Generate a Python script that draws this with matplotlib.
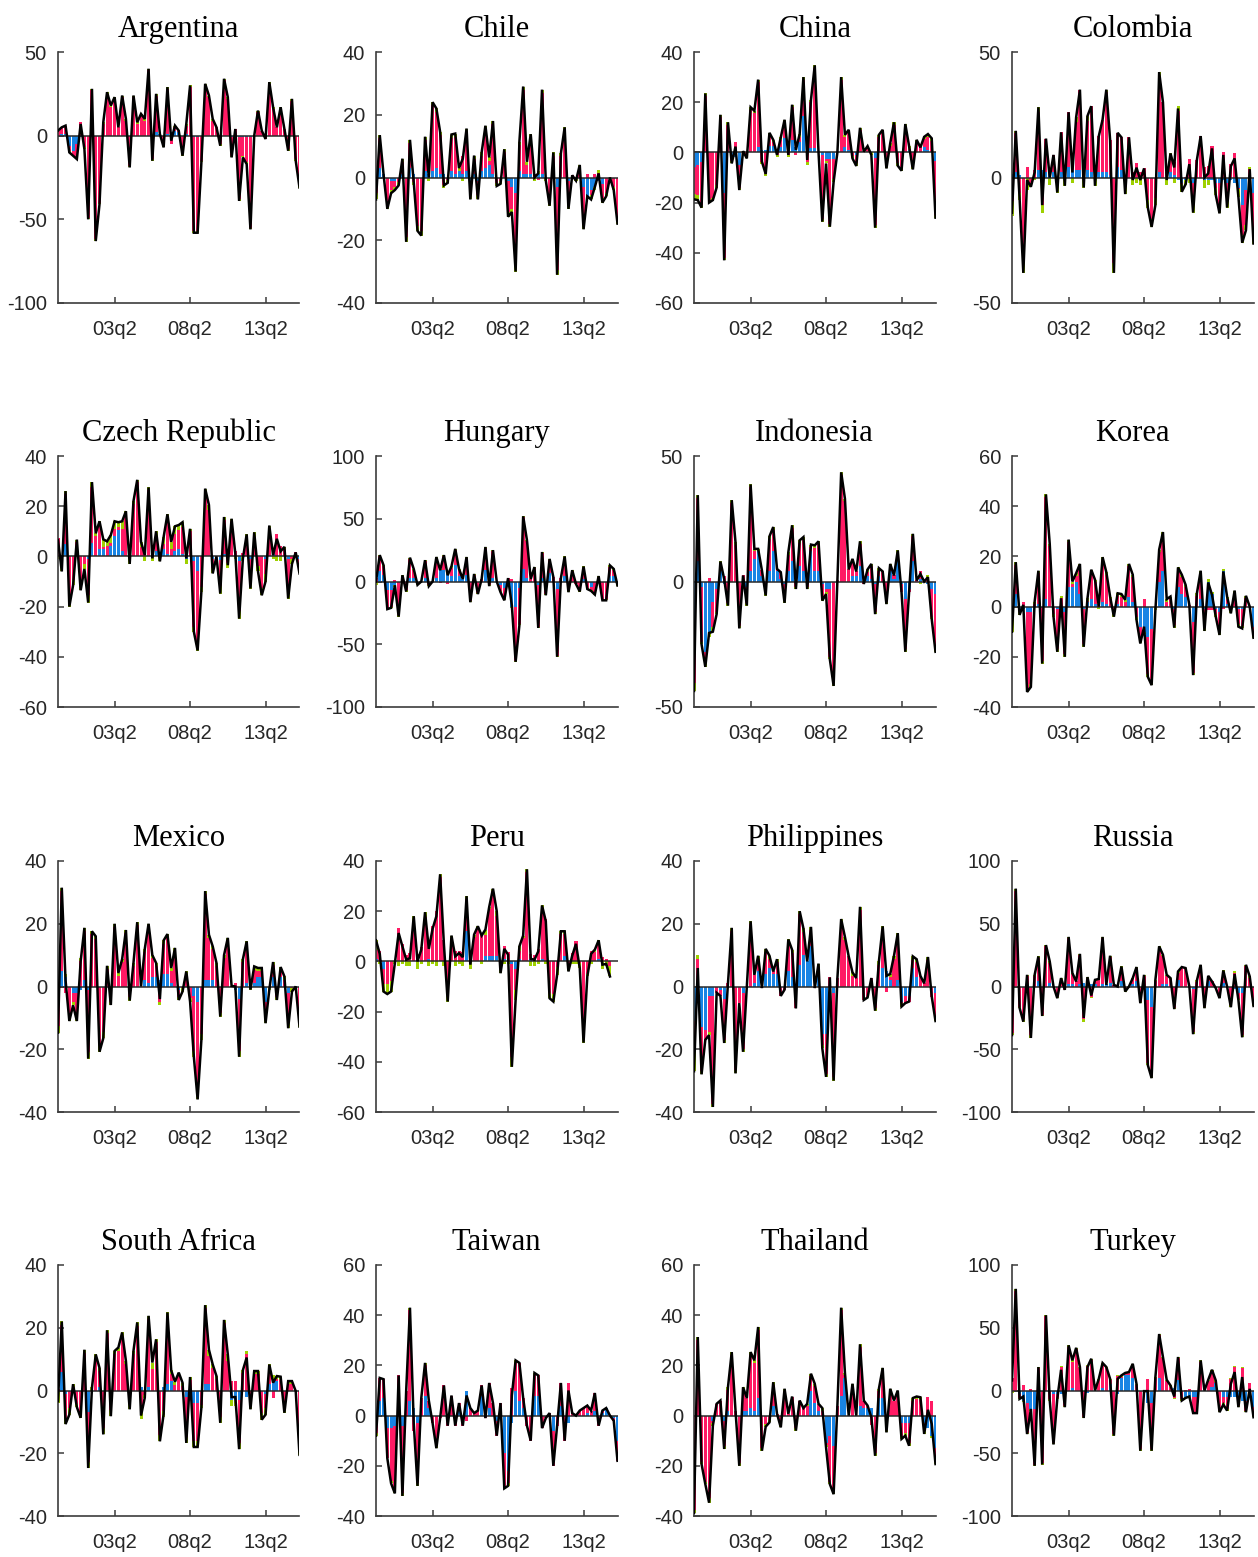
import numpy as np
import matplotlib
matplotlib.use("Agg")
import matplotlib.pyplot as plt

plt.rcParams["axes.unicode_minus"] = False

# Quarterly periods 1999q3 .. 2015q3
PERIODS = [f"{y % 100:02d}q{q}" for y in range(1999, 2016) for q in range(1, 5)][2:67]
TICK_LABELS = ["03q2", "08q2", "13q2"]

BLUE = "#1984e4"
PINK = "#ff1a64"
GREEN = "#9ed000"

# ---- series: total (line), blue contribution, green contribution ----
ARG_L = [3,5,6,-10,-12,-14,7,-8,-50,28,-63,-41,8,26,18,23,5,24,10,-19,24,8,13,10,40,-15,25,1,-7,29,-3,6,3,-12,7,30,-58,-58,-16,31,24,10,5,-6,34,23,-13,4,-39,-13,-17,-56,0,15,3,-2,32,17,5,17,4,-9,22,-15,-31]
ARG_B = [0,1,1,-6,-9,-5,-1,0,0,0,0,0,0,0,0,0,0,0,0,0,0,0,0,0,0,0,2,1,0,1,2,3,2,0,1,0,-1,-1,0,0,0,0,0,0,0,0,-1,0,-1,-1,-1,-1,0,0,0,-1,0,0,0,0,0,0,0,0,0]
ARG_G = [0,0,0,-1,0,-1,0,-1,-1,1,-1,-1,1,1,1,1,0,1,1,-1,1,1,1,1,1,-1,1,0,-1,1,0,1,0,-1,1,1,-1,-1,-1,1,1,1,0,-1,1,1,-1,0,-1,-1,-1,-1,0,1,0,0,1,1,0,1,0,-1,1,-1,-1]

CHL_L = [-7,13.5,1,-10,-5,-4,-2.5,6,-20.5,12,-1.5,-17,-18.5,13,0,24,22,14.5,-2.5,-1.7,13.7,14,3,6,15.6,-7,7,-7,8,16.5,6.4,18,-2.7,-2,9,-12.5,-11,-30,11.4,29,5,13.8,0,1.3,28,-1,-9,8,-31,7.7,16,-10,0.7,-1,4,-16.5,-6,-7,-3,1.3,-8,-6,0,-4,-14.7]
CHL_B = [0,3,1,0,-1,-1,0,1,0,3,1,0,0,2,1,2,3,1,1,0,2,1,2,1,2,-4,1,-1,2,3,4,1,0,0,0,-1,-3,-5,2,1,1,1,0,1,1,0,0,0,-3,0,0,-1,0,0,0,-3,-6,-4,-3,-1,-2,0,0,0,0]
CHL_G = [-2,1,0,-1.5,-1,-1,-1,1,-1.5,1,-1,-1.5,-1.5,1,-1,1,1,1,-1,-1,1,1,1,-1,1,-1.5,1,-1.5,1,1,1,1,-1,-1,1,-1.5,-1,-2,1,1,1,1,-1,1,1,-1,-1.5,1,-1.5,1,1,-1.5,0,-1,1,-1.5,-1,-1.5,-1,1,-1.5,-1,0,-1,-1.5]

CHN_L = [-18.7,-19,-22,23.5,-20,-19,-14,15,-43,12,-4.4,2.3,-15,0.5,-2.4,18,16.6,29,-3.7,-8.6,7.8,5,-1,6,13,-1,19,1,7.3,30,-3,21,34.7,0,-27.6,-4.4,-29.6,-11.7,0,30,7,9,-2.4,-5.4,9.8,0.3,2.5,-1,-30,7,9,-6.4,3.6,12,-5.3,-7.3,11.3,2.5,-6.8,5,2,6.2,7.3,5.6,-26]
CHN_B = [-6,-5,-4,0,0,0,0,0,-16,0,-1,-2,-5,0,0,0,0,2,1,1,2.5,2.5,1,2,5.6,1,5,2,4,14.5,2,1.6,1.6,0,-1,-2.8,-2.8,-2.8,0,0,2,1,0,-1,0,0,0,0,-2.4,0,0,0,0,0,0,0,0,1,0,0,0,2,1,0,-3.3]
CHN_G = [-2,-2,-1,1,-1,-1,-1,1,-1,1,-1,0,-1,0,-1,1,1,1,-1,-1,1,1,-1,1,1,-1,1,0,1,1,-1,1,1,0,-1,-1,-1,-1,0,1,1,1,-1,-1,1,0,0,-1,-1,1,1,-1,1,1,-1,-1,1,1,-1,1,0,1,1,1,-1]

COL_L = [-14,18.6,-8,-38,-1,-3.7,2,28,-11,15.5,0,9,-6,18,-3.3,26,2,24,35,-4,24.5,28.4,-3.3,16.5,23,35,15,-38,17.8,16,-6.6,16,-1,3.9,-1,3.6,-12,-19.7,-11,42,30,-1,9.6,4,27.5,-5.7,-2.7,5.3,-14,7,16.5,0,1.6,11.6,-7,-14.3,9,-12,4.5,7.6,-7.7,-26,-21,3.3,-26.3]
COL_B = [1.5,2,1,0,0,0,0,3,3,2,2,2,0,2,0,4,3,3,3,0,3,2,0,2,2,2,1,0,4,3,0,0,0,0,0,0,0,0,0,2,0,0,2,1,-1,-2,-1,0,-2,0,0,-1,-1,-1,-2,-2,-1,-2,-1,-2,-4,-11,-5,-1,-6]
COL_G = [-6,1,-3,-4,-5,-1,-1,2,-3,0,-3,0,-3,0,-3,0,-2,2,0,-3,2,0,-3,0,0,1,0,-4,0,0,-3,0,-3,-2,-3,0,-3,-3,-3,2,0,-3,2,-2,2,-3,-2,-2,-3,0,0,-3,-2,0,-3,-3,0,-3,0,0,-3,-3,-2,1,-3]

CZE_L = [6.5,-6,26,-20,-11.5,6.7,-13.5,-5,-18.4,29.6,9.2,14,6.8,6,8.5,14,13.6,14,18,-3,22,30.5,5.8,0.5,27.5,-0.8,10,-2,7.8,16.8,5.8,12,12.5,13.6,-0.8,11,-30,-37.5,-14,27,20.5,-6.8,0,-14.8,15.7,-3.5,15,1,-24.8,-0.8,8.8,-12.8,9.6,-6,-15.5,-10,12.3,0.5,7,2,3.8,-16.8,-3,1.6,-6.8]
CZE_B = [0,-1,5,0,0,0,0,0,-1,5.5,0,3,3,0,4,8,10.5,2,0,0,0,0,0,0,0,0,2,0,3,1,0,2,3,1,-1,0,-2,-6,0,0,0,-1,0,-1.5,1,1,0,0,-2,0,0,-1,0,0,0,-1,0,1,0,0,0,-1,0,0,-1]
CZE_G = [-1,-2,1,-3,-2,1,-3,-2,-3,2,1,2,3,2,3,3,2,3,1,-3,1,1,2,-2,1,-2,3,-2,3,3,3,3,2,2,-2,1,-2,-3,-2,1,2,-2,0,-3,1,-2,1,-1,-3,-2,1,-3,2,-2,-3,-3,1,-1,-2,-2,1,-3,-2,0,-2]

HUN_L = [0,21,13,-22,-21,-3,-28,5,-8,19,10,-2.7,0,17,-3.7,0,19.5,9,21,5,12,26,10,2,19.5,-16.5,6,-10,2,27.5,-3.7,25,0,-8.5,-15,2.7,-19,-64,-35,52,33,2,11.5,-37,23.5,-11,18,3.5,-60,2.7,20,-8.5,9,-2,-8,12,-6,-7.5,-10.4,4.3,-15,-15,12.8,10,-3.2]
HUN_B = [0,8,5,-7,-7,-3,0,3,0,3,3,0,0,3,0,0,3,9,9,6,4,13,4,2,5,0,2,0,0,9,0,3,0,-3,-5,0,-20,-20,-5,10,3,0,0,-3,3,0,7,0,-6,0,4,0,0,0,0,2,0,-4,0,0,0,0,4,4,0]
HUN_G = [-3,1,1,-1,-1,-1,-1,1,-1,1,1,-1,0,1,-1,0,1,1,1,1,1,1,1,0,1,-1,1,-1,0,1,-1,1,0,-1,-1,0,-1,-1,-1,1,1,0,1,-1,1,-1,1,0,-1,0,1,-1,1,0,-1,1,-1,-1,-1,1,-1,-1,1,1,-1]

IDN_L = [-43.6,34.4,-25,-34,-20.5,-20,-13,8,1,-9.6,32.4,15.7,-18.7,2.4,-9.6,38.7,13,13,4.4,-5.6,18,21.7,5,3.7,-8.5,11.7,22.4,-3,16.4,17.7,-3,14.7,14.4,16,-7.6,-5,-31,-41.6,0.4,43.5,33,4.8,9,4,16,-1,4.8,7,-13,5.3,4,-9,7,2.4,12.4,-4.3,-28,-4.3,19,0.4,3,0,1.7,-15,-28]
IDN_B = [-18,8,-2,-28,-20,-8,-3,4,-1,0,0,0,0,0,-2,4,9,12,2,0,4,12,4,1,-1,4,8,0,6,4,0,12,4,4,-1,-3,-3,0,0,0,0,0,2,2,6,0,2,1,-1,2,0,0,4,1,8,-1,-7,-3,8,0,1,0,-1,-3,-5]
IDN_G = [-3,1,-1,-2,-2,-2,-1,1,0,-1,1,1,-1,0,-1,1,1,1,0,-1,1,1,0,0,-1,1,1,-1,1,1,-1,1,1,1,-1,-1,-1,-2,0,1,1,0,1,0,1,0,1,1,-1,1,0,-1,1,0,1,0,-1,0,1,0,-1,0,1,-1,-1]

KOR_L = [-10,17.7,-3.3,0.7,-34,-32,2,14.3,-22.7,44.7,25,-4,-18,3.3,-20,26.7,10,13.3,17,-16,3.3,14.7,10.7,0,19.7,13.7,4,-4,5.3,5,2.7,17,12.7,-5.3,-14.7,-8,-28,-31.3,-1.3,22.7,29.7,3,4,-8.4,15.6,12.7,8.7,0.7,-27.3,5.3,14.3,-9.7,9.6,4.7,-4,-11.3,14,4,-2.7,6.4,-8,-8.7,4.3,0,-12.4]
KOR_B = [0,5,-1,-1,-2,-2,0,1,0,3,0,0,-1,-1,-2,8,8,10,5,-1,2,3,1,0,2,1,0,0,1,0,0,4,2,0,-8,-10,-12,-9,0,10,14,0,0,-1,8,5,4,0,-6,0,3,-1,10,5,-1,-2,14,1,-1,0,-1,-1,0,0,-8]
KOR_G = [-7,1,-1,0,-1,-1,1,1,-1,1,1,-1,-1,1,-1,1,1,1,1,-1,1,1,1,-1,1,1,1,-1,1,1,1,1,1,-1,-1,-1,-1,-1,-1,1,1,1,1,-1,1,1,1,0,-1,1,1,-1,1,1,-1,-1,1,1,-1,1,-1,-1,1,0,-1]

MEX_L = [-14.7,31.5,2,-11,-6,-11,8,18.7,-23,17.6,16,-20.8,-16.5,6.6,-5.9,20,4.3,8.7,18,-4.5,7.5,20.5,0,12,20,10,7.5,-4,14.7,16.7,5.9,12.3,-4.3,-1.6,4.8,-4.8,-22.4,-36,-17,30.4,16.5,12.8,7.5,-9.6,10,15.5,0.2,0,-22.4,8.7,14.4,-1,6.4,5.9,5.9,-11.7,-1,7.8,-4.3,6.2,3.2,-13.3,-1.6,0,-12.8]
MEX_B = [0,5,3,0,-2,-2,-1,2,-1,0,0,0,0,0,0,0,0,0,0,0,0,0,0,2,1,3,3,2,4,4,1,0,-1,0,0,0,-3,-5,0,2,2,2,0,0,0,0,0,-1,-4,0,1,0,1,3,3,-5,0,3,0,3,0,-2,0,0,0]
MEX_G = [-2,1,1,-2,-1,-2,1,1,-2,1,1,-2,-2,1,-1,1,1,1,1,-1,1,1,0,1,1,1,1,-1,1,1,1,1,-1,-1,1,-1,-2,-2,-2,1,1,1,1,-1,1,1,0,0,-2,1,1,-1,1,1,1,-2,-1,1,-1,1,1,-2,-1,0,-1]

PER_L = [8.4,3,-12,-13,-12,-0.7,11.3,6,0.7,1.3,18,0,4.7,19.6,5,13,18,34.7,6.7,-16,10.3,2,3.3,1.7,26,-1.3,10.7,14,10.3,12.7,21.7,29,20,-4.7,5,2.7,-42,-15.3,6,10.3,36.7,1,0.7,4,22.3,16,-14.7,-16,-5.3,12,12,-4,2.3,7,-2.7,-32.4,-6,3,4.7,8.4,-1.3,-1,-6]
PER_B = [1,0,-3,0,0,0,0,0,0,0,0,0,0,0,1,0,0,0,0,0,0,0,0,0,12,0,0,0,0,2,2,2,2,0,1,0,-1,-3,1,0,0,1,0,0,1,0,0,0,0,0,2,0,0,0,0,0,0,0,0,1,0,0,0]
PER_G = [4,-1,-3,-4,-4,-1,-2,-1,-2,-2,2,-3,-1,2,-2,-1,-2,1,-2,-3,1,-2,-1,-2,1,-3,1,1,-1,2,1,1,2,-3,-1,-1,-4,-4,2,1,1,-2,-2,-1,1,-1,-2,-3,-3,1,1,-2,-1,-1,-2,-3,-1,-1,1,1,-3,-2,-4]

PHL_L = [-27,5.9,-28,-17,-15.5,-38.4,-2,-3,-18,1,18.7,-27.7,-5.3,-20.8,0,20.8,3.7,9.8,-0.5,12,9.8,4.8,8.7,-3,-1,15,11.7,-7,24,18.5,8,19,-0.5,7.3,-19.7,-28.8,2.9,-30,2.7,21.5,15.8,9.6,4.5,2.7,25.4,-4.3,-3.5,2.7,-7.7,8,19.2,3.4,4,9.8,17,-6.4,-5.3,-4.8,9.6,8.7,3.4,1,9.4,-3.2,-11]
PHL_B = [-11,-4,-13,-14,-3,-3,0,-1,-4,0,0,0,0,-2,0,0,1,5,0,4,6,4,4,0,0,5,3,0,7,10,8,13,0,5,-15,-15,0,-2,0,0,0,0,0,0,0,0,0,0,0,0,6,5,2,0,2,-5,-3,-3,6,3,0,0,0,0,-2]
PHL_G = [-7,1,-1,0,-1,-1,0,0,-1,0,1,-1,0,-1,0,1,0,1,0,1,1,0,1,0,0,1,1,0,1,1,0,1,0,1,-1,-1,0,-1,0,1,1,0,1,0,1,0,0,0,-1,1,1,0,1,1,1,-1,0,0,1,1,0,0,1,0,-1]

RUS_L = [-38.7,78,-17,-28,9.3,-41,9.3,24,-23.5,33,20,0,-9.3,6.7,-2.7,39.5,10.7,4,26,-25,7.5,-7.2,5.3,6,39.5,1.3,24.5,1.3,0,16,-4,0,6.7,15.5,-13.3,9.3,-62.7,-73,5.3,32,25.3,9.3,6.7,-18,12,15.5,14.7,0,-38,4.8,17.3,-17.3,8.5,4,-1.3,-9.3,12.8,0,-16.5,10,-10.7,-40.5,17.3,8,-15.5]
RUS_B = [0,0,0,0,0,0,0,4,0,0,3,0,0,0,0,2,2,0,2,3,3,2,2,0,2,2,3,0,0,4,0,0,2,4,0,0,-11,-16,0,0,2,2,0,0,5,0,0,0,-2,0,0,0,4,0,0,0,3,0,0,-2,-5,-5,0,0,0]
RUS_G = [-2,2,-1,-2,1,-2,1,1,-1,1,1,0,-1,1,0,1,1,0,1,-2,1,-1,1,1,1,0,1,0,0,1,-1,0,1,1,-1,1,-2,-3,1,1,1,1,1,-1,1,1,1,0,-2,1,1,-1,1,0,0,-1,1,0,-2,1,-1,-2,1,1,-2]

ZAF_L = [-3.4,22,-10.7,-7.7,2,-5.3,-8.7,13,-24.7,0.9,11.5,7.2,-14,19.2,-8.2,12.6,13.7,18.5,9.4,-6,12.6,21.7,-8,-2.3,23.8,8.9,16.3,-16.2,-7.5,24.9,6.4,2.8,5.7,2.5,-16.7,4.3,-18,-18,-5.5,27.2,13,8.3,4.6,-10.3,22.5,11.5,-2.1,-2.1,-18.7,6.5,10.5,-6,6.2,6.2,-9.3,-7.7,8.3,2.5,4.6,4.4,-7.1,3,3,-0.2,-20.5]
ZAF_B = [0,6,-1,0,0,0,0,0,-7,0,0,1,0,0,-3,0,0,0,0,0,0,0,1,0,1,0,0,0,1,2,3,0,0,0,-2,0,-4,-4,0,2,2,0,0,0,0,0,-3,-3,-3,0,-2,0,0,0,0,-1,2,3,3,0,0,0,0,0,0]
ZAF_G = [-4,1,-2,-2,1,-1,-1,1,-2,1,1,1,-2,1,-2,1,1,2,1,-2,1,1,-2,-1,1,2,1,-2,-2,1,1,1,1,1,-2,1,-2,-2,-1,1,2,1,1,-2,1,2,-2,-2,-2,1,1,-2,1,1,-2,-2,1,2,1,1,-2,1,1,0,-2]

TWN_L = [-8,15,14.5,-17,-27,-31,16,-32,10,43,-3,-28,7,21,6,-3,-13,-1,12,-4,8,-4,5,-4,8,3,1,2,12,-1,13,5,-8,5,-29,-28,8,22,21,7,-4,-10,17,16,-5,-1,1,-20,-4,13,-10,10,1,0,2,3,4,2,9,-4,2,3,0,-2,-18]
TWN_B = [0,6,7,-5,-5,-4,0,-4,0,6,3,-3,0,8,3,0,0,0,0,0,0,0,3,0,10,0,0,0,8,0,3,0,-2,0,-15,-22,-3,10,6,3,0,0,8,8,0,0,0,-6,0,4,0,-3,0,0,0,0,1,0,2,0,1,3,0,-1,-10]
TWN_G = [-1,0,0,0,-1,-1,0,-1,0,1,0,-1,0,1,0,0,-1,0,0,0,0,0,0,0,0,0,0,0,0,0,0,0,0,0,-1,-1,0,1,0,0,0,0,1,0,0,0,0,0,0,0,0,0,0,0,0,0,0,0,0,0,0,0,0,0,0]

THA_L = [-38.7,31.3,-19.3,-27.3,-34.7,-4,4.7,6,-13.3,11.3,25.3,2,-20,11.3,7,25.3,22,35.3,-14,-4.4,-2.7,13.3,0.7,-4.7,10.7,0.7,7.6,-6,6,3,4.7,16.7,12.7,4.7,3,-12.7,-27.3,-31.3,4,43,17,0,12.7,0,28.4,6,4,-0.7,-16,10.7,19,-6.7,10.7,6,10,-9.3,-8,-12,7,7.6,7.3,-7.3,2.3,-3.3,-19.3]
THA_B = [0,0,0,0,0,-2,0,0,-2,2,0,0,0,2,2,3,2,7,0,0,0,4,0,0,0,0,0,0,0,0,0,10,5,2,0,-11,-8,-12,0,8,15,0,0,0,4,3,3,3,0,7,7,0,0,0,0,-3,-3,-3,0,0,0,-3,-5,-8,-13]
THA_G = [-1,1,-1,-1,-2,-1,0,0,-1,1,1,0,-1,1,0,1,1,1,-1,-1,-1,1,0,-1,1,0,0,-1,0,0,1,1,1,0,1,-1,-1,-2,0,1,1,0,1,0,1,0,0,0,-1,1,1,-1,1,0,1,-1,-1,-1,1,1,1,-1,0,-1,-1]

TUR_L = [8,81,-6.7,-4.8,-34.7,-14.7,-60,18.7,-59,60,-8,-43,-6.7,16.5,-13.3,36,24,34,18.7,-21.9,18.7,25.3,0,9.3,21.9,18.7,9.3,-36,9.3,12,14,14.7,21.3,5.3,-48,-0.5,-0.5,-48,10.7,45,26.7,8.5,4,-4.8,26.7,-8,-5.9,-4.8,-18,-18,24,0,8.5,16.5,8,-17.3,-11.2,-16,5.3,14.7,-13.3,10.7,-17.3,1.3,-21.3]
TUR_B = [0,0,-3,-8,-10,-15,-15,0,0,0,0,-3,-3,-3,-3,0,2,0,0,0,-2,0,0,0,2,0,5,0,-3,10,12,12,10,0,0,0,-10,-10,0,10,0,0,0,2,8,0,-5,-5,-5,-5,0,0,0,3,6,0,-5,-5,-5,-5,-5,-8,-8,-5,-13]
TUR_G = [-2,2,-1,-1,-1,-1,-1,1,-1,1,-1,-1,-1,1,-1,1,1,1,1,-1,1,1,0,1,1,1,1,-1,1,1,1,1,1,1,-1,0,0,-1,1,1,1,1,1,-1,1,-1,-1,-1,-1,-1,1,0,1,1,1,-1,-1,-1,1,1,-1,1,-1,0,-1]

COUNTRIES = ["Argentina", "Chile", "China", "Colombia",
             "Czech Republic", "Hungary", "Indonesia", "Korea",
             "Mexico", "Peru", "Philippines", "Russia",
             "South Africa", "Taiwan", "Thailand", "Turkey"]
Y_LIMITS = [(-100, 50), (-40, 40), (-60, 40), (-50, 50),
            (-60, 40), (-100, 100), (-50, 50), (-40, 60),
            (-40, 40), (-60, 40), (-40, 40), (-100, 100),
            (-40, 40), (-40, 60), (-40, 60), (-100, 100)]
Y_STEPS = [50, 20, 20, 50, 20, 50, 50, 20, 20, 20, 20, 50, 20, 20, 20, 50]
SERIES = [(ARG_L, ARG_B, ARG_G), (CHL_L, CHL_B, CHL_G), (CHN_L, CHN_B, CHN_G), (COL_L, COL_B, COL_G),
          (CZE_L, CZE_B, CZE_G), (HUN_L, HUN_B, HUN_G), (IDN_L, IDN_B, IDN_G), (KOR_L, KOR_B, KOR_G),
          (MEX_L, MEX_B, MEX_G), (PER_L, PER_B, PER_G), (PHL_L, PHL_B, PHL_G), (RUS_L, RUS_B, RUS_G),
          (ZAF_L, ZAF_B, ZAF_G), (TWN_L, TWN_B, TWN_G), (THA_L, THA_B, THA_G), (TUR_L, TUR_B, TUR_G)]

W, H = 1258, 1557
COL_LEFT = [58, 376, 694, 1012]
ROW_TOP = [52, 456, 861, 1265]
AX_W, AX_H = 241.5, 251

TICK_FONT = ["Liberation Sans", "DejaVu Sans"]
TITLE_FONT = ["Liberation Serif", "DejaVu Serif"]


def stacked(ax, x, parts):
    pos = np.zeros(len(x))
    neg = np.zeros(len(x))
    for vals, col in parts:
        base = np.where(vals >= 0, pos, neg)
        ax.bar(x, vals, width=0.8, bottom=base, color=col, linewidth=0, zorder=2)
        pos = pos + np.clip(vals, 0, None)
        neg = neg + np.clip(vals, None, 0)


fig = plt.figure(figsize=(W / 100, H / 100), dpi=100)
tick_pos = [PERIODS.index(t) for t in TICK_LABELS]

for k, name in enumerate(COUNTRIES):
    r, c = divmod(k, 4)
    ax = fig.add_axes([COL_LEFT[c] / W, 1 - (ROW_TOP[r] + AX_H) / H, AX_W / W, AX_H / H])
    total, blue, green = (np.asarray(s, float) for s in SERIES[k])
    pink = total - blue - green
    x = np.arange(len(total))
    stacked(ax, x, [(blue, BLUE), (pink, PINK), (green, GREEN)])
    ax.axhline(0, color="#2a2a2a", lw=1.1, zorder=3)
    ax.plot(x, total, color="black", lw=1.8, zorder=4, solid_joinstyle="miter")

    lo, hi = Y_LIMITS[k]
    ax.set_xlim(0, len(PERIODS) - 1)
    ax.set_ylim(lo, hi)
    ax.set_yticks(np.arange(lo, hi + 1, Y_STEPS[k]))
    ax.set_xticks(tick_pos)
    ax.set_xticklabels(TICK_LABELS)
    for side in ("top", "right"):
        ax.spines[side].set_visible(False)
    for side in ("left", "bottom"):
        ax.spines[side].set_color("#3c3c3c")
        ax.spines[side].set_linewidth(1.2)
    ax.tick_params(axis="both", direction="in", length=4, width=1.1, color="#3c3c3c",
                   labelcolor="#262626", labelsize=14.5)
    ax.tick_params(axis="x", pad=12)
    ax.tick_params(axis="y", pad=8)
    for lab in ax.get_xticklabels() + ax.get_yticklabels():
        lab.set_fontfamily(TICK_FONT)
    ax.set_title(name, fontfamily=TITLE_FONT, fontsize=22, pad=10.5, color="black")

fig.savefig("out.png", dpi=100, facecolor="white")
